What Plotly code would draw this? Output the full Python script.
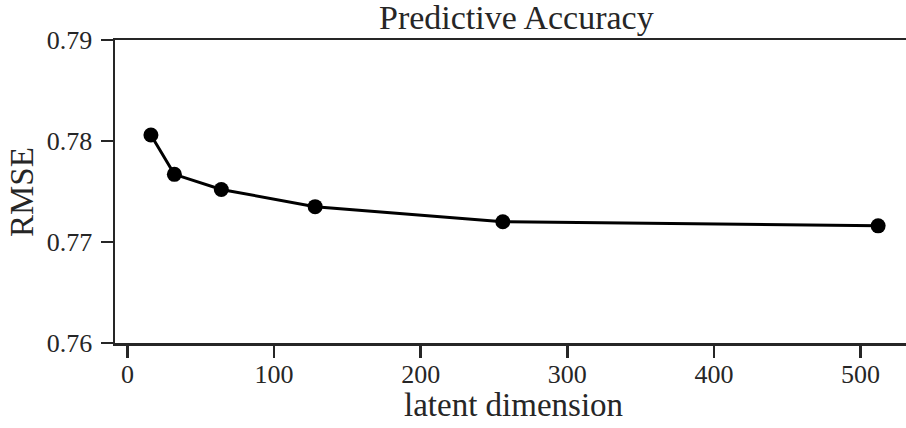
import plotly.graph_objects as go

latent_dim = [16, 32, 64, 128, 256, 512]
rmse = [0.7806, 0.7767, 0.7752, 0.7735, 0.7720, 0.7716]

x_ticks = [0, 100, 200, 300, 400, 500]
y_ticks = [0.76, 0.77, 0.78, 0.79]
y_tick_text = ["0.76", "0.77", "0.78", "0.79"]

FONT = "Liberation Serif"
INK = "#262626"

fig = go.Figure()
fig.add_trace(go.Scatter(
    x=latent_dim, y=rmse, mode="lines+markers",
    line=dict(color="black", width=3),
    marker=dict(color="black", size=15),
    showlegend=False,
))

W, H = 906, 428
L, R, T, B = 115, 0, 40, 85
pw, ph = W - L - R, H - T - B

def px_x(px):
    return (px - L) / pw

def px_y(py):
    return (H - B - py) / ph

fig.update_layout(
    width=W, height=H,
    margin=dict(l=L, r=R, t=T, b=B),
    paper_bgcolor="white", plot_bgcolor="white",
    font=dict(family=FONT, color=INK),
    hovermode=False,
    xaxis=dict(
        range=[-8.5, 531.0], tickvals=x_ticks,
        showgrid=False, zeroline=False,
        showline=True, linecolor=INK, linewidth=2.5, mirror=True,
        ticks="outside", ticklen=12, tickwidth=2.5, tickcolor=INK,
        tickfont=dict(family=FONT, size=26, color=INK),
        ticklabelstandoff=-6,
    ),
    yaxis=dict(
        range=[0.76, 0.79], tickvals=y_ticks, ticktext=y_tick_text,
        showgrid=False, zeroline=False,
        showline=True, linecolor=INK, linewidth=2.5,
        ticks="outside", ticklen=12, tickwidth=2.5, tickcolor=INK,
        tickfont=dict(family=FONT, size=26, color=INK),
        ticklabelstandoff=3,
    ),
    annotations=[
        dict(text="Predictive Accuracy", xref="paper", yref="paper",
             x=px_x(516), y=px_y(17), xanchor="center", yanchor="middle",
             showarrow=False, font=dict(family=FONT, size=34, color=INK)),
        dict(text="latent dimension", xref="paper", yref="paper",
             x=px_x(513), y=px_y(405), xanchor="center", yanchor="middle",
             showarrow=False, font=dict(family=FONT, size=33, color=INK)),
        dict(text="RMSE", xref="paper", yref="paper", textangle=-90,
             x=px_x(22), y=px_y(192), xanchor="center", yanchor="middle",
             showarrow=False, font=dict(family=FONT, size=33, color=INK)),
    ],
)

fig.write_html(
    "out.html",
    config={"displayModeBar": False, "staticPlot": True},
    post_script="document.body.style.margin='0';document.body.style.overflow='hidden';",
)
